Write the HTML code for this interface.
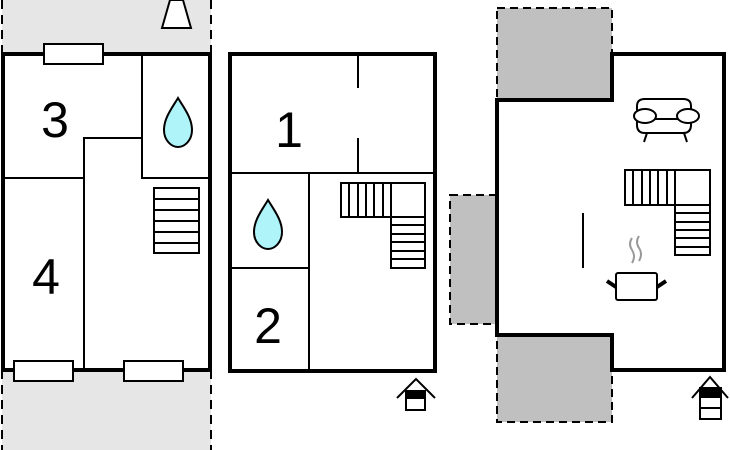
<!DOCTYPE html>
<html><head><meta charset="utf-8"><style>html,body{margin:0;padding:0;background:#fff;width:730px;height:450px;overflow:hidden}</style></head>
<body>
<svg width="730" height="450" viewBox="0 0 730 450" xmlns="http://www.w3.org/2000/svg" font-family="Liberation Sans, sans-serif">
<!-- left plan -->
<rect x="2" y="0" width="209" height="54" fill="#e6e6e6"/>
<rect x="2" y="370" width="209" height="80" fill="#e6e6e6"/>
<g stroke="#000" stroke-width="2" stroke-dasharray="9,6">
<line x1="2" y1="0" x2="2" y2="54"/><line x1="211" y1="0" x2="211" y2="54"/>
<line x1="2" y1="370" x2="2" y2="450"/><line x1="211" y1="370" x2="211" y2="450"/>
</g>
<polygon points="162,28 191,28 183,0 170,0" fill="#fff" stroke="#000" stroke-width="2"/>
<rect x="3" y="54" width="207" height="316" fill="#fff" stroke="#000" stroke-width="4"/>
<g stroke="#000" stroke-width="2" fill="none">
<polyline points="142,54 142,178 210,178"/>
<line x1="3" y1="178" x2="84" y2="178"/>
<polyline points="142,138 84,138 84,370"/>
</g>
<g fill="#fff" stroke="#000" stroke-width="2">
<rect x="44" y="44" width="59" height="20"/>
<rect x="14" y="361" width="59" height="20"/>
<rect x="124" y="361" width="59" height="20"/>
<rect x="154" y="188" width="45" height="65"/>
</g>
<g stroke="#000" stroke-width="2">
<line x1="154" y1="199" x2="199" y2="199"/><line x1="154" y1="210" x2="199" y2="210"/><line x1="154" y1="221" x2="199" y2="221"/><line x1="154" y1="232" x2="199" y2="232"/><line x1="154" y1="243" x2="199" y2="243"/>
</g>
<path d="M178,98 C172,108 164,118 164,130 C164,140 171,147 178,147 C185,147 192,140 192,130 C192,118 184,108 178,98 Z" fill="#aff4f8" stroke="#000" stroke-width="2"/>
<text x="55" y="137" font-size="50" text-anchor="middle">3</text>
<text x="46" y="294" font-size="50" text-anchor="middle">4</text>

<!-- middle plan -->
<rect x="230" y="54" width="205" height="317" fill="#fff" stroke="#000" stroke-width="4"/>
<g stroke="#000" stroke-width="2" fill="none">
<line x1="230" y1="173" x2="435" y2="173"/>
<line x1="358" y1="54" x2="358" y2="88"/><line x1="358" y1="138" x2="358" y2="173"/>
<line x1="309" y1="173" x2="309" y2="371"/>
<line x1="230" y1="268" x2="309" y2="268"/>
<rect x="341" y="183" width="84" height="34"/>
<rect x="391" y="217" width="34" height="51"/>
<line x1="391" y1="183" x2="391" y2="217"/>
<line x1="349" y1="183" x2="349" y2="217"/><line x1="358" y1="183" x2="358" y2="217"/><line x1="366" y1="183" x2="366" y2="217"/><line x1="374" y1="183" x2="374" y2="217"/><line x1="383" y1="183" x2="383" y2="217"/>
<line x1="391" y1="225" x2="425" y2="225"/><line x1="391" y1="234" x2="425" y2="234"/><line x1="391" y1="242" x2="425" y2="242"/><line x1="391" y1="251" x2="425" y2="251"/><line x1="391" y1="259" x2="425" y2="259"/>
</g>
<path d="M268,200 C262,210 254,220 254,232 C254,242 261,249 268,249 C275,249 282,242 282,232 C282,220 274,210 268,200 Z" fill="#aff4f8" stroke="#000" stroke-width="2"/>
<text x="289" y="147" font-size="50" text-anchor="middle">1</text>
<text x="268" y="343" font-size="50" text-anchor="middle">2</text>
<polyline points="397,398 416,379 435,398" fill="none" stroke="#000" stroke-width="2"/>
<rect x="406" y="391" width="19" height="19" fill="#fff" stroke="#000" stroke-width="2"/>
<rect x="406" y="391" width="19" height="8" fill="#000"/>

<!-- right plan -->
<g fill="#c0c0c0" stroke="#000" stroke-width="2" stroke-dasharray="8,5">
<rect x="497" y="8" width="115" height="92"/>
<rect x="450" y="195" width="47" height="129"/>
<rect x="497" y="335" width="115" height="87"/>
</g>
<polygon points="612,54 724,54 724,370 612,370 612,335 497,335 497,100 612,100" fill="#fff" stroke="#000" stroke-width="4"/>
<g stroke="#000" stroke-width="2" fill="none">
<rect x="625" y="170" width="85" height="35"/>
<rect x="675" y="205" width="35" height="50"/>
<line x1="675" y1="170" x2="675" y2="205"/>
<line x1="633" y1="170" x2="633" y2="205"/><line x1="642" y1="170" x2="642" y2="205"/><line x1="650" y1="170" x2="650" y2="205"/><line x1="658" y1="170" x2="658" y2="205"/><line x1="667" y1="170" x2="667" y2="205"/>
<line x1="675" y1="213" x2="710" y2="213"/><line x1="675" y1="222" x2="710" y2="222"/><line x1="675" y1="230" x2="710" y2="230"/><line x1="675" y1="238" x2="710" y2="238"/><line x1="675" y1="247" x2="710" y2="247"/>
<line x1="583" y1="213" x2="583" y2="268"/>
<!-- sofa -->
<path d="M637,112 L637,106 Q637,99 645,99 L683,99 Q691,99 691,106 L691,112"/>
<path d="M637,120 L637,125 Q637,133 645,133 L683,133 Q691,133 691,125 L691,120"/>
<line x1="645" y1="119" x2="683" y2="119"/>
<ellipse cx="645" cy="116" rx="11" ry="7" fill="#fff"/>
<ellipse cx="688" cy="116" rx="11" ry="7" fill="#fff"/>
<line x1="647" y1="133" x2="644" y2="142"/><line x1="684" y1="133" x2="687" y2="142"/>
<!-- pot -->
<rect x="616" y="273" width="41" height="27" rx="2" fill="#fff"/>
</g>
<g stroke="#000" stroke-width="4"><line x1="607" y1="281" x2="616" y2="287"/><line x1="657" y1="287" x2="666" y2="281"/></g>
<g stroke="#999" stroke-width="2" fill="none">
<path d="M632,238 Q628,244 632,250 Q636,256 632,263"/>
<path d="M639,236 Q635,242 639,248 Q643,254 639,261"/>
</g>
<polyline points="692,398 710,377 728,398" fill="none" stroke="#000" stroke-width="2"/>
<rect x="700" y="388" width="21" height="31" fill="#fff" stroke="#000" stroke-width="2"/>
<rect x="700" y="388" width="21" height="10" fill="#000"/>
<line x1="700" y1="408" x2="721" y2="408" stroke="#000" stroke-width="2"/>
</svg>
</body></html>
